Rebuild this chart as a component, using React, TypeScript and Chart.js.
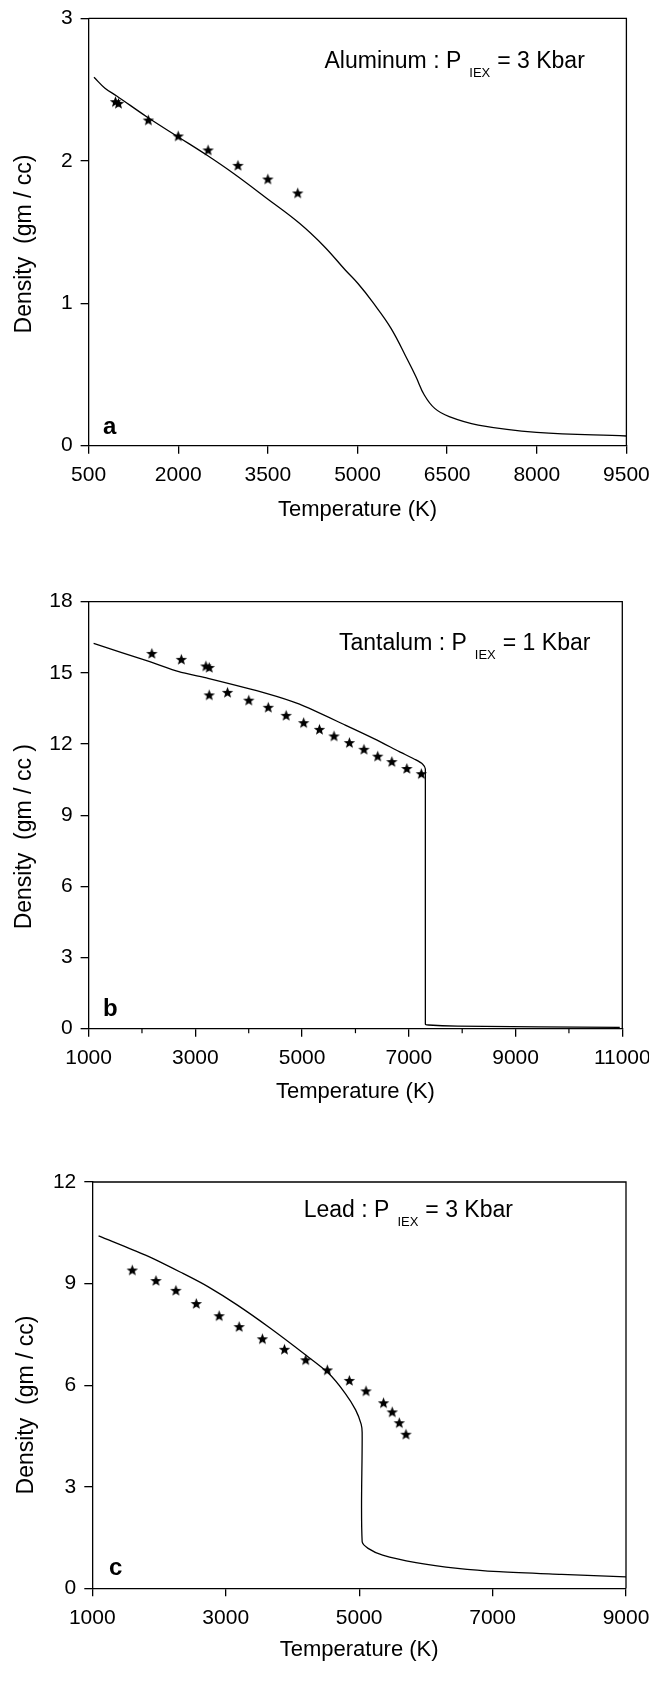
import { useEffect, useRef } from "react";
import { Chart, registerables } from "chart.js";

Chart.register(...registerables);

// ---------- Panel a : Aluminum ----------
const alCurveT = [590, 774, 970, 1472, 1974, 2476, 2921, 3479, 4029, 4447, 4795, 5004, 5248, 5561, 5839, 5978, 6118, 6292, 6535, 7022, 7997, 9500];
const alCurveD = [2.586, 2.509, 2.455, 2.309, 2.174, 2.04, 1.912, 1.737, 1.561, 1.397, 1.233, 1.14, 1.011, 0.824, 0.601, 0.484, 0.356, 0.262, 0.204, 0.145, 0.094, 0.068];
const alExpT = [950, 1000, 1500, 2000, 2500, 3000, 3500, 4000];
const alExpD = [2.415, 2.403, 2.286, 2.174, 2.076, 1.968, 1.872, 1.774];
const alXTicks = [500, 2000, 3500, 5000, 6500, 8000, 9500];
const alYTicks = [0, 1, 2, 3];

// ---------- Panel b : Tantalum ----------
const taCurveT = [1094, 2146, 2691, 3237, 4328, 4952, 5809, 6355, 6822, 7134, 7260, 7310, 7310, 7368, 7914, 10953];
const taCurveD = [16.24, 15.47, 15.05, 14.77, 14.14, 13.68, 12.8, 12.22, 11.68, 11.33, 11.15, 10.95, 0.2, 0.155, 0.11, 0.056];
const taExpT = [2185, 2738, 3198, 3260, 3260, 3603, 4001, 4367, 4702, 5030, 5326, 5599, 5887, 6160, 6417, 6682, 6963, 7235];
const taExpD = [15.82, 15.57, 15.29, 15.23, 14.07, 14.18, 13.85, 13.55, 13.21, 12.9, 12.62, 12.34, 12.06, 11.78, 11.49, 11.26, 10.97, 10.75];
const taXTicks = [1000, 3000, 5000, 7000, 9000, 11000];
const taXMinorTicks = [2000, 4000, 6000, 8000, 10000];
const taYTicks = [0, 3, 6, 9, 12, 15, 18];

// ---------- Panel c : Lead ----------
const pbCurveT = [1094, 1798, 2359, 2733, 3170, 3669, 4199, 4542, 4791, 4947, 5030, 5045, 5045, 5134, 5352, 5851, 6475, 7098, 8034, 9000];
const pbCurveD = [10.41, 9.84, 9.3, 8.91, 8.37, 7.68, 6.89, 6.35, 5.76, 5.27, 4.85, 4.6, 1.38, 1.18, 0.98, 0.76, 0.59, 0.49, 0.41, 0.34];
const pbExpT = [1599, 1954, 2253, 2559, 2902, 3201, 3550, 3881, 4199, 4523, 4853, 5103, 5365, 5496, 5602, 5702];
const pbExpD = [9.4, 9.09, 8.8, 8.41, 8.05, 7.73, 7.37, 7.06, 6.75, 6.45, 6.14, 5.83, 5.48, 5.21, 4.89, 4.55];
const pbXTicks = [1000, 3000, 5000, 7000, 9000];
const pbYTicks = [0, 3, 6, 9, 12];

const FONT = "'Liberation Sans', Arial, Helvetica, sans-serif";

type Spec = {
  curveT: number[];
  curveD: number[];
  expT: number[];
  expD: number[];
  xTicks: number[];
  xMinor: number[];
  yTicks: number[];
  yTitle: string;
  annMain: string;
  annSub: string;
  annRest: string;
  letter: string;
  tension: number;
  L: {
    top: number; h: number; padTop: number; yAxisW: number; padRight: number; xAxisH: number;
    xTitlePad: number; annX: number; annY: number; subDy: number; letterX: number; letterY: number;
    yTitleX: number; yTitleY: number;
  };
};

const panels: Spec[] = [
  {
    curveT: alCurveT, curveD: alCurveD, expT: alExpT, expD: alExpD,
    xTicks: alXTicks, xMinor: [], yTicks: alYTicks,
    yTitle: "Density  (gm / cc)",
    annMain: "Aluminum : P", annSub: "IEX", annRest: "= 3 Kbar", letter: "a", tension: 0.4,
    L: { top: 0, h: 540, padTop: 18.3, yAxisW: 88.6, padRight: 22.6, xAxisH: 94.3, xTitlePad: 17.3,
      annX: 324.5, annY: 67.5, subDy: 9.5, letterX: 103, letterY: 433.5, yTitleX: 31, yTitleY: 244 },
  },
  {
    curveT: taCurveT, curveD: taCurveD, expT: taExpT, expD: taExpD,
    xTicks: taXTicks, xMinor: taXMinorTicks, yTicks: taYTicks,
    yTitle: "Density  (gm / cc )",
    annMain: "Tantalum : P", annSub: "IEX", annRest: "= 1 Kbar", letter: "b", tension: 0.2,
    L: { top: 560, h: 550, padTop: 41.7, yAxisW: 88.6, padRight: 26.7, xAxisH: 81.3, xTitlePad: 4.8,
      annX: 339, annY: 90, subDy: 9, letterX: 103, letterY: 456, yTitleX: 31, yTitleY: 276.7 },
  },
  {
    curveT: pbCurveT, curveD: pbCurveD, expT: pbExpT, expD: pbExpD,
    xTicks: pbXTicks, xMinor: [], yTicks: pbYTicks,
    yTitle: "Density  (gm / cc)",
    annMain: "Lead : P", annSub: "IEX", annRest: "= 3 Kbar", letter: "c", tension: 0.3,
    L: { top: 1140, h: 551, padTop: 42, yAxisW: 92.3, padRight: 23, xAxisH: 102.7, xTitlePad: 27.8,
      annX: 303.7, annY: 77, subDy: 9, letterX: 109, letterY: 435, yTitleX: 33, yTitleY: 265 },
  },
];

let starCache: HTMLCanvasElement | null = null;
function starImage(): HTMLCanvasElement {
  if (starCache) return starCache;
  const c = document.createElement("canvas");
  c.width = 13;
  c.height = 13;
  const g = c.getContext("2d")!;
  const R = 6, r = 2.55, cx = 6.5, cy = 7;
  g.beginPath();
  for (let i = 0; i < 10; i++) {
    const a = -Math.PI / 2 + (i * Math.PI) / 5;
    const rad = i % 2 === 0 ? R : r;
    const px = cx + rad * Math.cos(a);
    const py = cy + rad * Math.sin(a);
    if (i === 0) g.moveTo(px, py);
    else g.lineTo(px, py);
  }
  g.closePath();
  g.fillStyle = "#000";
  g.fill();
  starCache = c;
  return c;
}

function makeConfig(s: Spec): any {
  const L = s.L;
  const decor = {
    id: "decor",
    afterDraw(chart: any) {
      const ctx = chart.ctx;
      const a = chart.chartArea;
      ctx.save();
      ctx.strokeStyle = "#000";
      ctx.lineWidth = 1.3;
      ctx.beginPath();
      ctx.moveTo(a.left, a.top);
      ctx.lineTo(a.right, a.top);
      ctx.lineTo(a.right, a.bottom);
      ctx.stroke();
      // minor ticks
      const xs = chart.scales.x;
      ctx.lineWidth = 1.2;
      for (const v of s.xMinor) {
        const px = xs.getPixelForValue(v);
        ctx.beginPath();
        ctx.moveTo(px, a.bottom);
        ctx.lineTo(px, a.bottom + 4.5);
        ctx.stroke();
      }
      ctx.fillStyle = "#000";
      // annotation
      ctx.textAlign = "left";
      ctx.textBaseline = "alphabetic";
      ctx.font = `23px ${FONT}`;
      ctx.fillText(s.annMain, L.annX, L.annY);
      const w1 = ctx.measureText(s.annMain).width;
      ctx.font = `13px ${FONT}`;
      const subX = L.annX + w1 + 8;
      ctx.fillText(s.annSub, subX, L.annY + L.subDy);
      const w2 = ctx.measureText(s.annSub).width;
      ctx.font = `23px ${FONT}`;
      ctx.fillText(s.annRest, subX + w2 + 7, L.annY);
      // panel letter
      ctx.font = `bold 24px ${FONT}`;
      ctx.fillText(s.letter, L.letterX, L.letterY);
      // y title
      ctx.font = `23px ${FONT}`;
      ctx.translate(L.yTitleX, L.yTitleY);
      ctx.rotate(-Math.PI / 2);
      ctx.textAlign = "center";
      ctx.fillText(s.yTitle, 0, 0);
      ctx.restore();
    },
  };

  const tickFont = { family: FONT, size: 21 };
  return {
    type: "line",
    data: {
      datasets: [
        {
          data: s.curveT.map((t, i) => ({ x: t, y: s.curveD[i] })),
          borderColor: "#000",
          borderWidth: 1.3,
          pointRadius: 0,
          tension: s.tension,
          fill: false,
        },
        {
          data: s.expT.map((t, i) => ({ x: t, y: s.expD[i] })),
          showLine: false,
          pointStyle: starImage(),
          pointRadius: 5,
          backgroundColor: "#000",
          borderColor: "#000",
        },
      ],
    },
    options: {
      animation: false,
      responsive: false,
      devicePixelRatio: 1,
      events: [],
      plugins: { legend: { display: false }, tooltip: { enabled: false } },
      layout: { padding: { left: 0, top: L.padTop, right: L.padRight, bottom: 0 } },
      scales: {
        x: {
          type: "linear",
          position: "bottom",
          min: s.xTicks[0],
          max: s.xTicks[s.xTicks.length - 1],
          afterBuildTicks: (sc: any) => {
            sc.ticks = s.xTicks.map((v) => ({ value: v }));
          },
          afterFit: (sc: any) => {
            sc.height = L.xAxisH;
            sc.paddingLeft = 0;
            sc.paddingRight = 0;
          },
          ticks: {
            callback: (v: any) => String(v),
            color: "#000",
            font: tickFont,
            padding: 9,
            maxRotation: 0,
            autoSkip: false,
          },
          grid: { drawOnChartArea: false, drawTicks: true, tickLength: 8, color: "#000", lineWidth: 1.3 },
          border: { display: true, color: "#000", width: 1.3 },
          title: {
            display: true,
            text: "Temperature (K)",
            color: "#000",
            font: { family: FONT, size: 22 },
            padding: { top: 0, bottom: L.xTitlePad },
          },
        },
        y: {
          type: "linear",
          min: s.yTicks[0],
          max: s.yTicks[s.yTicks.length - 1],
          afterBuildTicks: (sc: any) => {
            sc.ticks = s.yTicks.map((v) => ({ value: v }));
          },
          afterFit: (sc: any) => {
            sc.width = L.yAxisW;
            sc.paddingTop = 0;
            sc.paddingBottom = 0;
          },
          ticks: {
            callback: (v: any) => String(v),
            color: "#000",
            font: tickFont,
            padding: 8,
            autoSkip: false,
          },
          grid: { drawOnChartArea: false, drawTicks: true, tickLength: 8, color: "#000", lineWidth: 1.3 },
          border: { display: true, color: "#000", width: 1.3 },
          title: { display: false },
        },
      },
    },
    plugins: [decor],
  };
}

function Panel({ spec }: { spec: Spec }) {
  const ref = useRef<HTMLCanvasElement>(null);
  useEffect(() => {
    const chart = new Chart(ref.current!, makeConfig(spec));
    return () => chart.destroy();
  }, [spec]);
  return (
    <canvas
      ref={ref}
      width={649}
      height={spec.L.h}
      style={{ position: "absolute", left: 0, top: spec.L.top, width: 649, height: spec.L.h }}
    />
  );
}

export default function App() {
  return (
    <div style={{ position: "absolute", left: 0, top: 0, width: 649, height: 1691, background: "#fff", overflow: "hidden" }}>
      {panels.map((p, i) => (
        <Panel key={i} spec={p} />
      ))}
    </div>
  );
}
